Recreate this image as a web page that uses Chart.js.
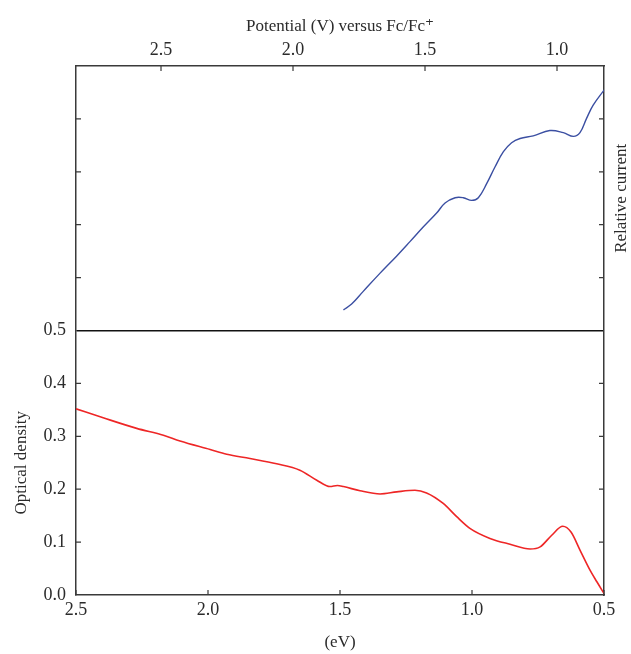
<!DOCTYPE html>
<html>
<head>
<meta charset="utf-8">
<title>Optical density and relative current</title>
<script src="https://cdn.jsdelivr.net/npm/chart.js@4.4.1/dist/chart.umd.min.js"></script>
<style>
  html, body { margin:0; padding:0; background:#fff; }
  #wrap { position:relative; width:631px; height:654px; }
</style>
</head>
<body>
<div id="wrap"><canvas id="chart" width="631" height="654"></canvas></div>
<script>
/* -------------------------------------------
   DATA
   ------------------------------------------- */

// bottom panel: optical density vs photon energy (eV)
const energyEV = [2.500, 2.397, 2.270, 2.169, 2.106, 1.992, 1.929, 1.841, 1.740, 1.652,
                  1.588, 1.538, 1.510, 1.487, 1.424, 1.348, 1.285, 1.216, 1.172, 1.109,
                  1.058, 1.008, 0.932, 0.856, 0.780, 0.742, 0.698, 0.656, 0.625, 0.591,
                  0.553, 0.527, 0.500];
const opticalDensity = [0.352, 0.335, 0.315, 0.302, 0.291, 0.275, 0.266, 0.258, 0.248, 0.236,
                        0.217, 0.205, 0.207, 0.205, 0.197, 0.191, 0.195, 0.198, 0.193, 0.173,
                        0.148, 0.126, 0.107, 0.096, 0.087, 0.091, 0.113, 0.130, 0.119, 0.085,
                        0.047, 0.025, 0.003];

// top panel: relative current vs potential (V vs Fc/Fc+)
const potentialV = [1.809, 1.778, 1.734, 1.671, 1.607, 1.557, 1.506, 1.456, 1.424, 1.386,
                    1.355, 1.323, 1.298, 1.266, 1.235, 1.203, 1.172, 1.140, 1.090, 1.027,
                    0.976, 0.938, 0.913, 0.888, 0.863, 0.821];
const relCurrent = [0.39, 0.50, 0.74, 1.08, 1.41, 1.68, 1.96, 2.22, 2.41, 2.51,
                    2.51, 2.46, 2.51, 2.78, 3.09, 3.38, 3.55, 3.63, 3.68, 3.78,
                    3.74, 3.67, 3.74, 4.01, 4.26, 4.55];

// axis ranges / ticks
const evRange   = [0.5, 2.5];
const potRange  = [0.822, 2.822];
const potTicks  = [2.5, 2.0, 1.5, 1.0];
const odRange   = [0, 0.5];
const curRange  = [0, 5];


/* -------------------------------------------
   STYLE
   ------------------------------------------- */

const FONT   = "'Liberation Serif', 'DejaVu Serif', serif";
const INK    = "#2b2b2b";
const AXIS   = "#3a3a3a";
const RED    = "#ee2626";
const BLUE   = "#3b4fa2";

const fmt1 = v => Number(v).toFixed(1);


/* -------------------------------------------
   PLUGIN: inward ticks + right-hand title
   ------------------------------------------- */

const frameTicks = {
  id: "frameTicks",
  afterDraw(chart){
    const ctx = chart.ctx;
    const area = chart.chartArea;
    const len = 5;
    ctx.save();
    ctx.strokeStyle = AXIS;
    ctx.lineWidth = 1.2;
    ctx.beginPath();

    // x ticks: bottom axis up, top axis down
    chart.scales.x.ticks.forEach(t=>{
      const px = chart.scales.x.getPixelForValue(t.value);
      ctx.moveTo(px, area.bottom); ctx.lineTo(px, area.bottom - len);
    });
    chart.scales.x2.ticks.forEach(t=>{
      const px = chart.scales.x2.getPixelForValue(t.value);
      ctx.moveTo(px, area.top); ctx.lineTo(px, area.top + len);
    });

    // y ticks on both sides of each panel
    ["yOD","yCur"].forEach(id=>{
      const s = chart.scales[id];
      s.ticks.forEach(t=>{
        if(t.value === s.min || t.value === s.max) return;
        const py = s.getPixelForValue(t.value);
        ctx.moveTo(area.left, py);  ctx.lineTo(area.left + len, py);
        ctx.moveTo(area.right, py); ctx.lineTo(area.right - len, py);
      });
    });
    ctx.stroke();

    // "Relative current" reads bottom-to-top on the right side
    const cur = chart.scales.yCur;
    ctx.fillStyle = INK;
    ctx.font = "17px " + FONT;
    ctx.textAlign = "center";
    ctx.textBaseline = "middle";
    ctx.translate(622, (cur.top + cur.bottom) / 2);
    ctx.rotate(-Math.PI / 2);
    ctx.fillText("Relative current", 0, 0);
    ctx.restore();
  }
};


/* -------------------------------------------
   CHART
   ------------------------------------------- */

const odPoints  = energyEV.map((e,i)=>({x:e, y:opticalDensity[i]}));
const curPoints = potentialV.map((p,i)=>({x:p, y:relCurrent[i]}));

new Chart(document.getElementById("chart"),{
  type:"line",
  data:{
    datasets:[
      {
        label:"Optical density",
        data:odPoints,
        xAxisID:"x", yAxisID:"yOD",
        borderColor:RED, borderWidth:1.6,
        pointRadius:0, cubicInterpolationMode:"monotone"
      },
      {
        label:"Relative current",
        data:curPoints,
        xAxisID:"x2", yAxisID:"yCur",
        borderColor:BLUE, borderWidth:1.4,
        pointRadius:0, tension:0.4
      }
    ]
  },
  options:{
    responsive:false,
    animation:false,
    events:[],
    layout:{ padding:0 },
    plugins:{ legend:{display:false}, tooltip:{enabled:false} },
    scales:{
      x:{
        type:"linear", position:"bottom", reverse:true,
        min:evRange[0], max:evRange[1],
        afterFit: s => { s.height = 59; },
        border:{ display:true, color:AXIS, width:1.5 },
        grid:{ display:false, drawTicks:false },
        ticks:{ stepSize:0.5, autoSkip:false, maxRotation:0, padding:4,
                color:INK, font:{family:FONT, size:18}, callback:fmt1 },
        title:{ display:true, text:"(eV)", color:INK,
                font:{family:FONT, size:17}, padding:{top:0, bottom:1} }
      },
      x2:{
        type:"linear", position:"top", reverse:true,
        min:potRange[0], max:potRange[1],
        afterFit: s => { s.height = 66; },
        afterBuildTicks: s => { s.ticks = potTicks.map(v=>({value:v})); },
        border:{ display:true, color:AXIS, width:1.5 },
        grid:{ display:false, drawTicks:false },
        ticks:{ autoSkip:false, maxRotation:0, padding:5,
                color:INK, font:{family:FONT, size:18}, callback:fmt1 },
        title:{ display:true, text:"Potential (V) versus Fc/Fc\u207A", color:INK,
                font:{family:FONT, size:17}, padding:{top:16, bottom:0} }
      },
      yOD:{
        type:"linear", position:"left", stack:"left", stackWeight:1,
        min:odRange[0], max:odRange[1],
        afterFit: s => { s.width = 76; },
        border:{ display:true, color:AXIS, width:1.5 },
        grid:{
          drawTicks:false,
          color: c => (c.tick && Math.abs(c.tick.value - odRange[1]) < 1e-9) ? "#111" : "rgba(0,0,0,0)",
          lineWidth:1.5
        },
        ticks:{ stepSize:0.1, autoSkip:false, padding:10,
                color:INK, font:{family:FONT, size:18}, callback:fmt1 },
        title:{ display:true, text:"Optical density", color:INK,
                font:{family:FONT, size:17}, padding:{top:11, bottom:0} }
      },
      yCur:{
        type:"linear", position:"left", stack:"left", stackWeight:1,
        min:curRange[0], max:curRange[1],
        afterFit: s => { s.width = 76; },
        border:{ display:true, color:AXIS, width:1.5 },
        grid:{ display:false, drawTicks:false },
        ticks:{ stepSize:1, display:false }
      },
      yR:{
        type:"linear", position:"right",
        min:0, max:1,
        afterFit: s => { s.width = 27; },
        border:{ display:true, color:AXIS, width:1.5 },
        grid:{ display:false, drawTicks:false },
        ticks:{ display:false }
      }
    }
  },
  plugins:[frameTicks]
});
</script>
</body>
</html>
